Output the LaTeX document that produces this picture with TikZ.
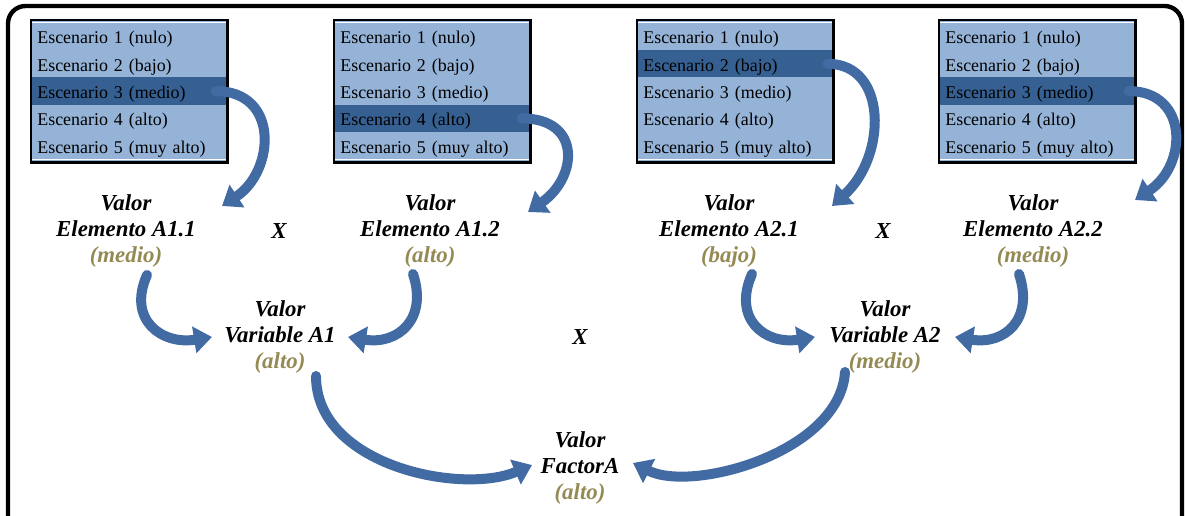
\documentclass[tikz,border=0pt]{standalone}
\usepackage{fontspec}
\setmainfont{Liberation Serif}
\usetikzlibrary{arrows.meta,calc,positioning}
\definecolor{claro}{RGB}{149,179,215}
\definecolor{oscuro}{RGB}{54,96,146}
\definecolor{azulflecha}{RGB}{66,107,163}
\definecolor{oro}{RGB}{148,138,84}

\begin{document}
\begin{tikzpicture}[x=0.02cm,y=-0.02cm,
	fila/.style={anchor=north west,text width=3.68cm,inner xsep=0.12cm,inner ysep=0pt,minimum height=0.546cm,text height=9pt,text depth=0.6pt,align=left,font=\fontsize{10.2}{12}\selectfont},
	valor/.style={align=center,font=\fontsize{13}{15}\selectfont\bfseries\itshape},
	flecha/.style={azulflecha,line width=0.2cm,line cap=round,-{Triangle[width=0.52cm,length=0.36cm]}}]

	\useasboundingbox (0,0) rectangle (1185,516);
	\clip (0,0) rectangle (1185,516);
	\draw[line width=2.5pt,rounded corners=0.35cm] (8,6) rectangle (1182,560);

	% tablas de escenarios
	\foreach \b/\x/\s in {1/31/3,2/334/4,3/637/2,4/939/3}{
		\foreach \r/\t in {1/nulo,2/bajo,3/medio,4/alto,5/muy alto}{
			\ifnum\r=\s \def\relleno{oscuro}\else\def\relleno{claro}\fi
			\node[fila,fill=\relleno] (b\b-\r) at ({\x},{22.5+27.3*(\r-1)}) {Escenario \r{} (\t)};
		}
		\fill[claro] ($(b\b-1.north west)+(0,-2.5)$) rectangle (b\b-1.north east);
		\fill[claro] (b\b-5.south west) rectangle ($(b\b-5.south east)+(0,2.5)$);
		\draw[line width=1.5pt] ($(b\b-1.north west)+(0,-2.5)$) rectangle ($(b\b-5.south east)+(0,2.5)$);
	}

	\node[valor] (e11) at (126,231) {Valor\\Elemento A1.1\\\textcolor{oro}{(medio)}};
	\node[valor] (e12) at (430,231) {Valor\\Elemento A1.2\\\textcolor{oro}{(alto)}};
	\node[valor] (e21) at (729,231) {Valor\\Elemento A2.1\\\textcolor{oro}{(bajo)}};
	\node[valor] (e22) at (1033,231) {Valor\\Elemento A2.2\\\textcolor{oro}{(medio)}};
	\node[valor] (x1) at (279,231) {X};
	\node[valor] (x2) at (883,231) {X};

	\node[valor] (v1) at (280,337) {Valor\\Variable A1\\\textcolor{oro}{(alto)}};
	\node[valor] (v2) at (885,337) {Valor\\Variable A2\\\textcolor{oro}{(medio)}};
	\node[valor] (x3) at (580,337) {X};

	\node[valor] (fa) at (580,468) {Valor\\FactorA\\\textcolor{oro}{(alto)}};

	% flechas
	\draw[flecha] ($(b1-3.east)+(-12,0)$) .. controls +(64,0) and +(53,-35) .. ($(e11)+(96,-25)$);
	\draw[flecha] ($(b2-4.east)+(-9,0)$) .. controls +(60,0) and +(50,-35) .. ($(e12)+(98,-19)$);
	\draw[flecha] ($(b3-2.east)+(-6,0)$) .. controls +(60,0) and +(55,-50) .. ($(e21)+(103,-25)$);
	\draw[flecha] ($(b4-3.east)+(-7,0)$) .. controls +(60,0) and +(53,-35) .. ($(e22)+(102,-31)$);

	\draw[flecha] ($(e11)+(21,44)$) .. controls +(-20,45) and +(-50,8) .. ($(v1)+(-68,0)$);
	\draw[flecha] ($(e12)+(-17,43)$) .. controls +(15,45) and +(50,8) .. ($(v1)+(68,0)$);
	\draw[flecha] ($(e21)+(23,43)$) .. controls +(-20,45) and +(-50,8) .. ($(v2)+(-70,0)$);
	\draw[flecha] ($(e22)+(-14,43)$) .. controls +(15,45) and +(50,8) .. ($(v2)+(70,0)$);

	\draw[flecha] ($(v1)+(36,39)$) .. controls +(0,90) and +(-70,30) .. ($(fa)+(-48,-3)$);
	\draw[flecha] ($(v2)+(-40,35)$) .. controls +(-5,80) and +(60,30) .. ($(fa)+(53,-5)$);

\end{tikzpicture}
\end{document}
